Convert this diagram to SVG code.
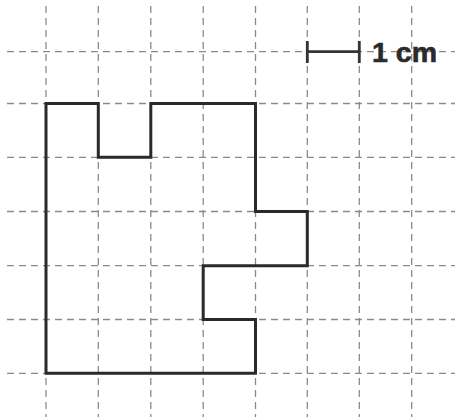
<svg xmlns="http://www.w3.org/2000/svg" width="455" height="417" viewBox="0 0 455 417">
<style>
.grid line{stroke:#8a8a8a;stroke-width:1.3;stroke-dasharray:7 5;fill:none}
.shape{fill:none;stroke:#2a2a2a;stroke-width:3;stroke-linejoin:miter}
.bar{stroke:#333;stroke-width:2.8;fill:none}
.lbl{font-family:"Liberation Sans",Arial,sans-serif;font-weight:bold;font-size:28px;fill:#2a2a2a;stroke:#2a2a2a;stroke-width:0.6}
</style>
<rect width="455" height="417" fill="#fff"/>
<g class="grid" id="grid">
<line x1="46" y1="6" x2="46" y2="417"/>
<line x1="98.3" y1="6" x2="98.3" y2="417"/>
<line x1="150.8" y1="6" x2="150.8" y2="417"/>
<line x1="203.2" y1="6" x2="203.2" y2="417"/>
<line x1="255.5" y1="6" x2="255.5" y2="417"/>
<line x1="307.3" y1="6" x2="307.3" y2="417"/>
<line x1="359.3" y1="6" x2="359.3" y2="417"/>
<line x1="411.7" y1="6" x2="411.7" y2="417"/>
<line x1="7" y1="51.7" x2="455" y2="51.7"/>
<line x1="7" y1="103.5" x2="455" y2="103.5"/>
<line x1="7" y1="157.3" x2="455" y2="157.3"/>
<line x1="7" y1="211.5" x2="455" y2="211.5"/>
<line x1="7" y1="265.7" x2="455" y2="265.7"/>
<line x1="7" y1="319.5" x2="455" y2="319.5"/>
<line x1="7" y1="373.3" x2="455" y2="373.3"/>
</g>
<g id="shape">
<path class="shape" d="M46,103.5 H98.3 V157.3 H150.8 V103.5 H255.5 V211.5 H307.3 V265.7 H203.2 V319.5 H255.5 V373.3 H46 Z"/>
</g>
<g id="scale">
<path class="bar" d="M307.3,51.7 H359.3 M307.3,41 V63 M359.3,41 V63"/>
<text class="lbl" x="372" y="61.5" textLength="65" lengthAdjust="spacingAndGlyphs">1 cm</text>
</g>
</svg>
